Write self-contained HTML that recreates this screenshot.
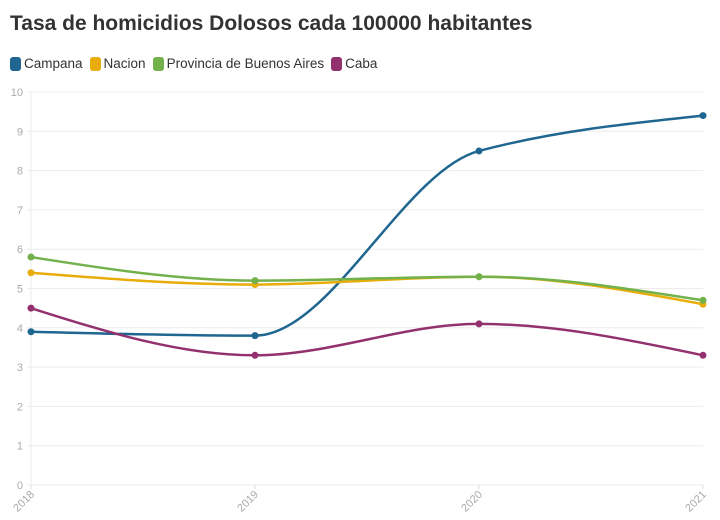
<!DOCTYPE html>
<html><head><meta charset="utf-8"><style>
body{margin:0;background:#fff;width:720px;height:520px;overflow:hidden;font-family:"Liberation Sans",sans-serif}
h1{position:absolute;left:10px;top:12px;margin:0;font-size:21px;font-weight:bold;color:#333}
.leg{position:absolute;top:56px;left:10px;display:flex;font-size:13.5px;color:#333}
.li{display:flex;align-items:center;margin-right:7px}
.sw{width:11px;height:14px;border-radius:3px;margin-right:3px}
svg{position:absolute;left:0;top:0}
</style></head><body>
<h1>Tasa de homicidios Dolosos cada 100000 habitantes</h1>
<div class="leg">
<div class="li"><div class="sw" style="background:#1f6690"></div>Campana</div>
<div class="li"><div class="sw" style="background:#e8ad0a"></div>Nacion</div>
<div class="li"><div class="sw" style="background:#72b14b"></div>Provincia de Buenos Aires</div>
<div class="li"><div class="sw" style="background:#93316f"></div>Caba</div>
</div>
<svg id="c" width="720" height="520"></svg>
<script>
const years=["2018","2019","2020","2021"];
const yTicks=[0,1,2,3,4,5,6,7,8,9,10];
const campana=[3.9,3.8,8.5,9.4];
const nacion=[5.4,5.1,5.3,4.6];
const provincia=[5.8,5.2,5.3,4.7];
const caba=[4.5,3.3,4.1,3.3];
const series=[["campana",campana,"#1f6690"],["nacion",nacion,"#e8ad0a"],["provincia",provincia,"#72b14b"],["caba",caba,"#93316f"]];
const X0=31,X1=703,Y0=485,Y1=92;
const sx=i=>X0+(X1-X0)*i/(years.length-1);
const sy=v=>Y0-(Y0-Y1)*v/10;
const svg=document.getElementById('c');const NS="http://www.w3.org/2000/svg";
function mk(t,a){const e=document.createElementNS(NS,t);for(const k in a)e.setAttribute(k,a[k]);svg.appendChild(e);return e;}
yTicks.forEach(t=>{
 const l=mk('line',{x1:X0-4,x2:X1,y1:sy(t),y2:sy(t),stroke:'#ececec'});
 
 
 const tx=mk('text',{x:X0-8,y:sy(t)+4,'text-anchor':'end','font-size':11,fill:'#aaa'});tx.textContent=t;
 
 
});
const ax=mk('line',{x1:X0,x2:X0,y1:Y1,y2:Y0+4,stroke:'#ececec'});


years.forEach((y,i)=>{
 const x=sx(i);
 mk('line',{x1:x,x2:x,y1:Y0,y2:Y0+4,stroke:'#ddd'});
 const t=mk('text',{x:x+4,y:Y0+10,'text-anchor':'end','font-size':11,fill:'#aaa',transform:`rotate(-45 ${x+4} ${Y0+10})`});t.textContent=y;
 
 
});
function monotone(xs,ys){
 const n=xs.length,d=[],m=[];
 for(let i=0;i<n-1;i++)d.push((ys[i+1]-ys[i])/(xs[i+1]-xs[i]));
 for(let i=0;i<n;i++){
  if(i==0)m.push(d[0]);else if(i==n-1)m.push(d[n-2]);
  else m.push(d[i-1]*d[i]<=0?0:3*(xs[i+1]-xs[i-1])/((2*xs[i+1]-xs[i]-xs[i-1])/d[i-1]+(xs[i+1]+xs[i]-2*xs[i-1])/d[i]));
 }
 m[0]=(3*d[0]-m[1])/2;m[n-1]=(3*d[n-2]-m[n-2])/2;
 let p=`M${xs[0]},${ys[0]}`;
 for(let i=0;i<n-1;i++){const h=(xs[i+1]-xs[i])/3;
  p+=`C${xs[i]+h},${ys[i]+h*m[i]} ${xs[i+1]-h},${ys[i+1]-h*m[i+1]} ${xs[i+1]},${ys[i+1]}`;}
 return p;
}
series.forEach(([n,v,c])=>{
 const xs=v.map((_,i)=>sx(i)),ys=v.map(sy);
 const p=mk('path',{d:monotone(xs,ys),fill:'none',stroke:c,'stroke-width':2.5});
 
 
 v.forEach((val,i)=>{const ci=mk('circle',{cx:sx(i),cy:sy(val),r:3.5,fill:c});
  
  });
});
</script>
</body></html>
